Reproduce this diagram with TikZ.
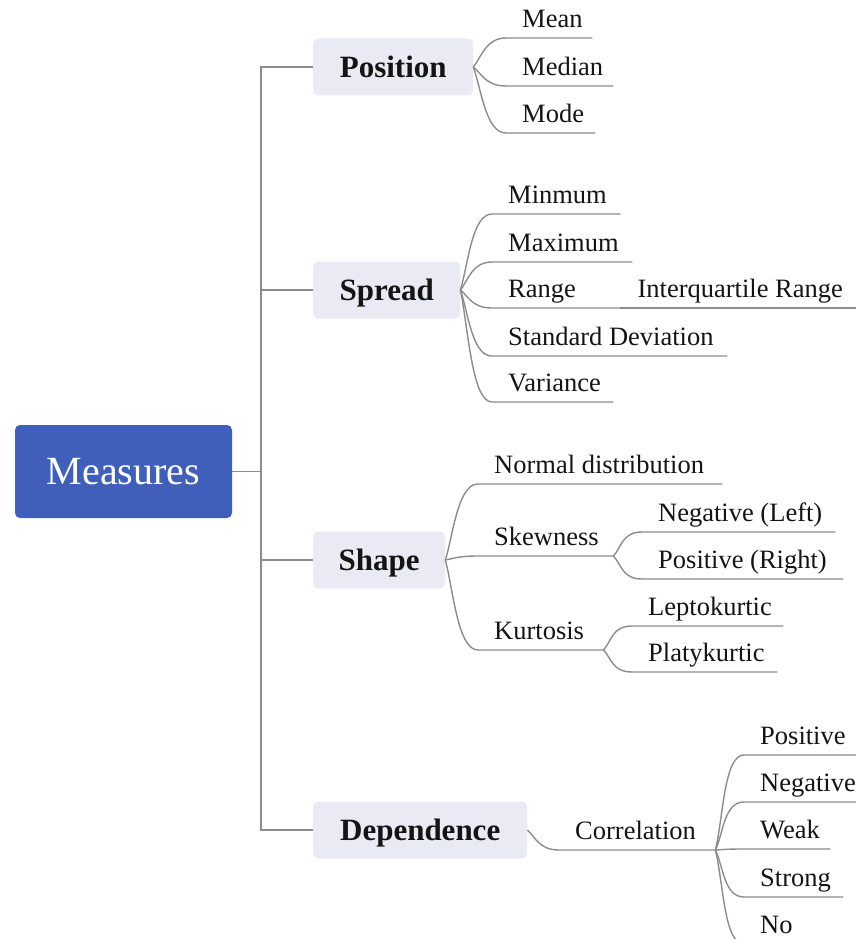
\documentclass[tikz,border=0pt]{standalone}
\usepackage{fontspec}
\setmainfont{LiberationSerif}[Extension=.ttf, UprightFont=*-Regular, BoldFont=*-Bold, ItalicFont=*-Italic, BoldItalicFont=*-BoldItalic]
\usetikzlibrary{calc}

\definecolor{rootblue}{HTML}{3F5FBB}
\definecolor{topicbg}{HTML}{E9EAF3}
\definecolor{linkgray}{HTML}{8C8C8C}
\definecolor{inkblack}{HTML}{141414}

% leaf label: fixed-width box, text indented from the start of its underline
\newcommand{\leafbox}[2]{\makebox[#1][l]{\hspace*{16pt}#2}}
% curved branch from a fork point into the underline of a leaf node
\newcommand{\mmbranch}[2]{%
  \draw[link] (#1) .. controls ($(#1)!0.35!(#1|-#2.south west)+(8,0)$)
    and ($(#2.south west)+(-20,0)$) .. (#2.south west) -- (#2.south east);}

\tikzset{
  root/.style={fill=rootblue, rounded corners=5pt, minimum width=217pt,
    minimum height=93pt, inner sep=0pt, text=white, text height=26.5pt,
    text depth=0pt, font=\fontsize{40}{48}\selectfont},
  topic/.style={fill=topicbg, rounded corners=5pt, anchor=west,
    minimum height=57pt, inner sep=0pt, text=inkblack, text height=21pt,
    text depth=0pt, font=\fontsize{31}{36}\selectfont\bfseries},
  leaf/.style={anchor=south west, inner xsep=0pt, inner ysep=4.5pt,
    text depth=6pt, text=inkblack, font=\fontsize{26.5}{30}\selectfont},
  link/.style={draw=linkgray, line width=1.4pt},
}

\begin{document}
\begin{tikzpicture}[x=1pt,y=-1pt]
\useasboundingbox (0,0) rectangle (856,939);
\clip (0,0) rectangle (856,939);

% root and trunk
\node[root] (measures) at (123.5,471.5) {Measures};
\coordinate (trunk) at (261,471.5);

% main topics
\node[topic, minimum width=160pt] (position) at (313,67) {Position};
\node[topic, minimum width=147pt] (spread) at (313,290) {Spread};
\node[topic, minimum width=132pt] (shape) at (313,560) {Shape};
\node[topic, minimum width=214pt] (dependence) at (313,830) {Dependence};

\draw[link] (measures.east) -- (trunk);
\draw[link] (position.west) -- (position.west -| trunk) |- (dependence.west);
\draw[link] (spread.west) -- (spread.west -| trunk);
\draw[link] (shape.west) -- (shape.west -| trunk);

% Position
\node[leaf] (mean)   at (506,38)  {\leafbox{86pt}{Mean}};
\node[leaf] (median) at (506,86)  {\leafbox{107pt}{Median}};
\node[leaf] (mode)   at (506,133) {\leafbox{89pt}{Mode}};
\foreach \n in {mean,median,mode} {\mmbranch{position.east}{\n}}

% Spread
\node[leaf] (minmum)   at (492,214) {\leafbox{128pt}{Minmum}};
\node[leaf] (maximum)  at (492,262) {\leafbox{140pt}{Maximum}};
\node[leaf] (range)    at (492,308) {\leafbox{128pt}{Range}};
\node[leaf] (stddev)   at (492,356) {\leafbox{235pt}{Standard Deviation}};
\node[leaf] (variance) at (492,402) {\leafbox{121pt}{Variance}};
\foreach \n in {minmum,maximum,range,stddev,variance} {\mmbranch{spread.east}{\n}}
\node[leaf] (iqr) at (range.south east) {\makebox[235pt][l]{\hspace*{17pt}Interquartile Range}};
\draw[link] (iqr.south west) -- (iqr.south east);

% Shape
\node[leaf] (normal)   at (478,484) {\leafbox{244pt}{Normal distribution}};
\node[leaf] (skewness) at (478,556) {\leafbox{135pt}{Skewness}};
\node[leaf] (kurtosis) at (478,650) {\leafbox{125pt}{Kurtosis}};
\foreach \n in {normal,skewness,kurtosis} {\mmbranch{shape.east}{\n}}

\node[leaf] (negleft)  at (642,532) {\leafbox{193pt}{Negative (Left)}};
\node[leaf] (posright) at (642,579) {\leafbox{201pt}{Positive (Right)}};
\foreach \n in {negleft,posright} {\mmbranch{skewness.south east}{\n}}

\node[leaf] (lepto) at (632,626) {\leafbox{151pt}{Leptokurtic}};
\node[leaf] (platy) at (632,672) {\leafbox{145pt}{Platykurtic}};
\foreach \n in {lepto,platy} {\mmbranch{kurtosis.south east}{\n}}

% Dependence
\node[leaf] (correlation) at (559,850) {\leafbox{156pt}{Correlation}};
\mmbranch{dependence.east}{correlation}

\node[leaf] (cpos)    at (744,755) {\leafbox{130pt}{Positive}};
\node[leaf] (cneg)    at (744,802) {\leafbox{130pt}{Negative}};
\node[leaf] (cweak)   at (744,849) {\leafbox{86pt}{Weak}};
\node[leaf] (cstrong) at (744,897) {\leafbox{99pt}{Strong}};
\node[leaf] (cno)     at (744,944) {\leafbox{90pt}{No}};
\foreach \n in {cpos,cneg,cweak,cstrong,cno} {\mmbranch{correlation.south east}{\n}}
\end{tikzpicture}
\end{document}
